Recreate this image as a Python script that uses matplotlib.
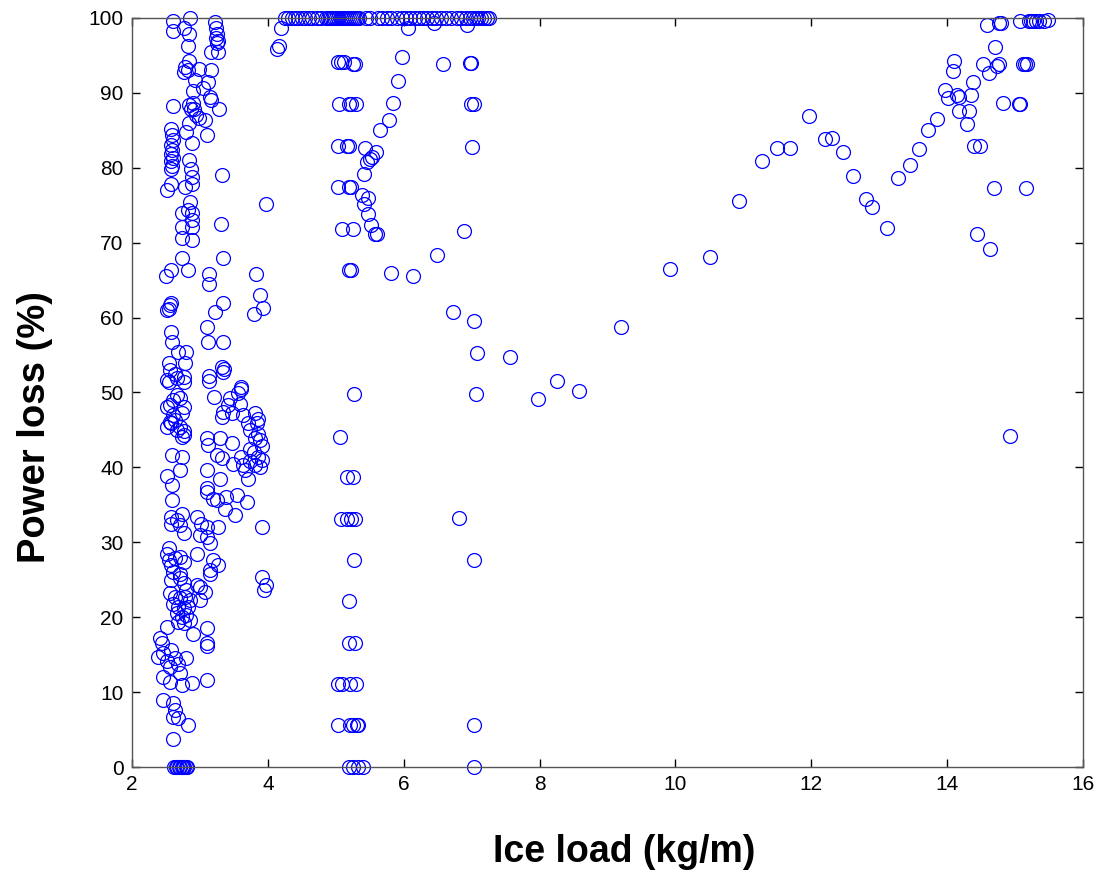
import matplotlib
matplotlib.use("Agg")
import matplotlib.pyplot as plt
import numpy as np

plt.rcParams['font.family'] = ['Liberation Sans', 'DejaVu Sans']

# ---- data: (ice load kg/m, power loss %) ----
# Right branch (large ice loads)
right_x = [7.57, 7.98, 8.25, 8.58, 9.20, 9.92, 10.51, 10.93, 11.28, 11.50, 11.69, 11.96,
           12.20, 12.31, 12.47, 12.61, 12.80, 12.90, 13.12, 13.28, 13.46, 13.58, 13.72, 13.85,
           13.97, 14.02, 14.10, 14.09, 14.14, 14.17, 14.18, 14.29, 14.32, 14.35, 14.38, 14.40,
           14.48, 14.44, 14.53, 14.58, 14.62, 14.63, 14.69, 14.71, 14.73, 14.76, 14.77, 14.79,
           14.82, 14.93, 15.06, 15.08, 15.08, 15.12, 15.14, 15.17, 15.16, 15.20, 15.23, 15.27,
           15.31, 15.36, 15.42, 15.49]
right_y = [54.8, 49.1, 51.5, 50.2, 58.7, 66.5, 68.1, 75.6, 80.9, 82.6, 82.7, 86.9,
           83.9, 84.0, 82.1, 78.9, 75.8, 74.7, 71.9, 78.6, 80.4, 82.5, 85.1, 86.5,
           90.4, 89.3, 94.3, 92.9, 89.7, 89.5, 87.6, 85.9, 87.6, 89.7, 91.4, 82.9,
           82.9, 71.2, 93.9, 99.0, 92.6, 69.1, 77.3, 96.1, 93.6, 93.9, 99.3, 99.3,
           88.6, 44.2, 88.5, 88.5, 99.6, 93.9, 93.9, 93.9, 77.3, 99.6, 99.6, 99.6,
           99.6, 99.6, 99.6, 99.7]

# Middle group (ice load ~4-7.3)
top_x = [4.25, 4.30, 4.35, 4.40, 4.45, 4.50, 4.55, 4.60, 4.65, 4.72, 4.78, 4.85, 4.88,
         4.92, 4.95, 4.98, 5.01, 5.04, 5.07, 5.10, 5.13, 5.16, 5.19, 5.22, 5.25, 5.28,
         5.31, 5.34, 5.45, 5.50, 5.62, 5.68, 5.75, 5.82, 5.90, 5.97, 6.03, 6.10, 6.17,
         6.22, 6.28, 6.35, 6.42, 6.48, 6.55, 6.62, 6.70, 6.78, 6.85, 6.92, 6.98, 7.02,
         7.06, 7.10, 7.14, 7.18, 7.22, 7.26, 4.20, 6.07, 6.44, 6.93]
top_y = [100.0] * 58 + [98.6, 98.6, 99.3, 99.1]

mid_x = [5.98, 6.58, 6.97, 6.99, 5.03, 5.07, 5.12, 5.26, 5.29, 5.91, 5.05, 5.20, 5.23,
         5.30, 5.84, 6.99, 7.03, 5.78, 5.65, 5.04, 5.16, 5.20, 5.43, 5.59, 5.54, 5.50,
         5.46, 5.41, 7.00, 5.04, 5.20, 5.23, 5.38, 5.48, 5.41, 5.48, 5.52, 5.58, 5.60,
         5.09, 5.26, 6.89, 6.49, 5.20, 5.23, 5.81, 6.13, 6.72, 7.03, 7.08,
         5.27, 7.07, 5.06, 5.16, 5.26, 5.08, 5.16, 5.23, 5.28, 6.81, 5.27, 7.03, 5.20,
         5.19, 5.28, 5.04, 5.09, 5.21, 5.30, 5.03, 5.21, 5.26, 5.31, 5.33, 7.03,
         5.19, 5.26, 5.33, 5.40, 7.04]
mid_y = [94.8, 93.9, 94.0, 94.0, 94.1, 94.1, 94.1, 93.9, 93.9, 91.6, 88.5, 88.5, 88.5,
         88.5, 88.7, 88.5, 88.5, 86.4, 85.1, 82.9, 82.9, 82.9, 82.6, 82.1, 81.5, 81.2,
         80.8, 79.2, 82.8, 77.4, 77.4, 77.4, 76.3, 75.9, 75.2, 73.8, 72.3, 71.2, 71.1,
         71.8, 71.8, 71.6, 68.4, 66.3, 66.3, 66.0, 65.6, 60.8, 59.6, 55.3,
         49.8, 49.8, 44.1, 38.7, 38.7, 33.1, 33.1, 33.1, 33.1, 33.3, 27.6, 27.6, 22.1,
         16.6, 16.6, 11.1, 11.1, 11.1, 11.1, 5.6, 5.6, 5.6, 5.6, 5.6, 5.6,
         0.0, 0.0, 0.0, 0.0, 0.0]

# Left group (ice load ~2.4-4.2)
left_x = [2.61, 2.85, 3.22, 2.61, 2.76, 2.84, 3.24, 3.25, 3.24, 3.26, 3.25, 2.82, 3.17,
          3.27, 4.13, 4.17, 2.84, 2.78, 2.77, 2.83, 2.99, 3.17, 2.93, 3.12, 3.04, 2.90,
          2.61, 2.84, 2.90, 2.87, 2.92, 3.15, 3.17, 3.28, 2.94, 2.98, 3.07, 2.84,
          2.58, 2.59, 2.60, 2.57, 2.59, 2.58, 2.60, 2.57, 2.59, 2.58,
          2.80, 3.10, 2.89, 2.84, 2.87, 2.89, 3.32, 2.58, 2.51, 2.78, 2.88, 3.98,
          2.85, 2.83, 2.88, 2.74, 2.88, 2.73, 2.88, 2.73, 2.88, 3.31, 2.73, 3.34,
          2.58, 2.50, 2.82, 3.13, 3.13, 3.83, 3.88, 3.93, 3.79, 3.34, 3.22,
          2.56, 2.52, 2.55, 2.58, 2.57, 2.59, 3.11, 3.12, 3.34, 2.68, 2.80, 2.78,
          2.54, 2.56, 2.52, 2.64, 2.66, 2.76, 3.13, 3.33, 3.36, 3.34, 3.61,
          3.61, 3.56, 2.54, 2.76, 3.13, 3.21,
          3.44, 3.42, 3.34, 3.32, 3.47, 3.59, 3.64, 3.71, 3.81, 3.86, 3.84, 3.74, 3.86,
          3.81, 3.88, 3.91, 3.74, 3.79, 3.86, 3.91, 3.74, 3.81, 3.88, 3.64, 3.66, 3.71,
          3.61, 3.49,
          3.10, 3.12, 3.30, 3.25, 3.32, 3.47,
          3.11, 3.29, 3.11, 3.11, 3.20, 3.39, 3.54, 3.69, 3.37, 3.52, 3.25, 3.27,
          3.92, 3.92, 3.98, 3.95,
          2.51, 2.56, 2.61, 2.66, 2.71, 2.76, 2.73, 2.63, 2.56, 2.51, 2.71, 2.76, 2.66,
          2.61, 2.58, 2.76, 2.73,
          2.59, 2.74, 2.71, 2.52, 2.59, 2.59,
          2.73, 2.58, 2.58, 2.71, 2.76, 2.66,
          2.95, 3.02, 3.10, 3.00, 3.10, 3.15, 2.95,
          2.54, 2.51, 2.54, 2.58, 2.63, 2.71, 2.76, 2.61, 2.71, 2.71, 2.76, 2.80, 2.58,
          3.20, 3.27, 3.15, 3.15, 3.00, 3.07, 3.00, 2.95,
          2.56, 2.63, 2.71, 2.78, 2.85, 2.61, 2.68, 2.76, 2.83, 2.66, 2.73, 2.80, 2.85,
          2.68, 2.76, 2.90,
          2.51, 2.41, 2.44, 2.39, 2.46, 2.51, 2.58, 2.63, 2.56, 2.68, 2.80, 2.71, 2.46,
          2.56, 2.73, 2.88, 3.10, 3.10, 3.10, 3.10,
          2.46, 2.61, 2.63, 2.61, 2.68, 2.83, 2.61,
          2.62, 2.65, 2.67, 2.69, 2.71, 2.73, 2.75, 2.77, 2.79, 2.81]
left_y = [99.6, 100.0, 99.5, 98.2, 98.6, 97.9, 98.6, 97.9, 97.3, 96.9, 96.6, 96.3, 95.5,
          95.5, 95.9, 96.2, 94.2, 93.4, 92.8, 93.0, 93.2, 93.0, 91.7, 91.5, 90.7, 90.2,
          88.3, 88.4, 88.6, 87.8, 87.9, 89.4, 89.1, 87.9, 87.0, 86.6, 86.4, 86.0,
          85.2, 84.4, 83.7, 83.1, 82.4, 81.8, 81.3, 80.9, 80.2, 79.8,
          84.8, 84.4, 83.3, 81.0, 79.8, 78.8, 79.0, 77.9, 77.0, 77.4, 77.9, 75.2,
          75.4, 74.4, 73.9, 73.9, 73.0, 72.1, 72.1, 70.6, 70.4, 72.5, 68.0, 68.0,
          66.4, 65.5, 66.3, 65.8, 64.5, 65.8, 63.0, 61.3, 60.5, 61.9, 60.8,
          61.7, 61.0, 61.2, 61.9, 58.1, 56.8, 58.8, 56.8, 56.7, 55.4, 55.4, 53.9,
          53.9, 53.0, 51.7, 52.5, 51.9, 52.1, 52.2, 53.4, 53.1, 52.8, 50.7,
          50.4, 49.9, 51.4, 51.4, 51.5, 49.4,
          49.2, 48.3, 47.4, 46.7, 47.2, 48.5, 47.0, 45.9, 47.2, 46.5, 45.9, 45.0, 44.5,
          43.9, 43.7, 42.8, 42.5, 42.1, 41.4, 41.0, 40.8, 40.3, 40.1, 40.3, 39.7, 38.5,
          41.4, 40.5,
          43.9, 43.0, 43.9, 41.7, 41.2, 43.2,
          39.7, 38.5, 37.2, 36.7, 35.8, 36.0, 36.3, 35.4, 34.5, 33.6, 35.6, 32.1,
          32.1, 25.4, 24.3, 23.6,
          48.1, 48.3, 49.0, 49.7, 49.2, 48.1, 47.2, 46.3, 46.1, 45.4, 45.4, 44.8, 45.0,
          47.0, 45.9, 44.3, 44.1,
          41.7, 41.4, 39.7, 38.8, 37.7, 35.6,
          33.8, 33.4, 32.5, 32.3, 31.2, 33.0,
          33.4, 32.5, 32.1, 31.0, 30.7, 29.9, 28.5,
          29.2, 28.5, 27.6, 27.0, 27.9, 28.1, 27.4, 26.1, 25.8, 25.2, 24.5, 23.6, 25.0,
          27.6, 27.0, 25.8, 26.3, 24.0, 23.4, 22.3, 24.3,
          23.2, 22.7, 22.5, 22.7, 22.3, 21.8, 21.4, 21.2, 21.4, 20.5, 20.0, 20.3, 19.6,
          19.4, 19.2, 17.8,
          18.7, 17.2, 16.5, 14.7, 15.2, 14.1, 15.6, 14.5, 13.4, 13.8, 14.5, 12.5, 12.0,
          11.4, 10.9, 11.2, 11.6, 18.5, 16.5, 16.1,
          8.9, 8.5, 7.6, 6.7, 6.5, 5.6, 3.8,
          0.0, 0.0, 0.0, 0.0, 0.0, 0.0, 0.0, 0.0, 0.0, 0.0]

ice_load = np.array(left_x + mid_x + top_x + right_x)
power_loss = np.array(left_y + mid_y + top_y + right_y)

x_ticks = [2, 4, 6, 8, 10, 12, 14, 16]
y_ticks = [0, 10, 20, 30, 40, 50, 60, 70, 80, 90, 100]

fig = plt.figure(figsize=(10.97, 8.72), dpi=100)
ax = fig.add_axes([0.1203, 0.1204, 0.8669, 0.859])

ax.plot(ice_load, power_loss, linestyle='none', marker='o', markersize=10,
        markerfacecolor='none', markeredgecolor='#0000ff', markeredgewidth=0.9,
        clip_on=False)

ax.set_xlim(2, 16)
ax.set_ylim(0, 100)
ax.set_xticks(x_ticks)
ax.set_yticks(y_ticks)
ax.tick_params(direction='in', length=6, width=1, labelsize=15, top=True, right=True,
               pad=6)
for s in ax.spines.values():
    s.set_linewidth(1.0)
    s.set_color('#555555')

ax.set_xlabel('Ice load (kg/m)', fontsize=27, fontweight='bold', va='center', ha='center')
ax.xaxis.set_label_coords(0.518, -0.113)
ax.set_ylabel('Power loss (%)', fontsize=27.5, fontweight='bold', va='center', ha='center')
ax.yaxis.set_label_coords(-0.1015, 0.454)

fig.savefig('out.png', dpi=100)
